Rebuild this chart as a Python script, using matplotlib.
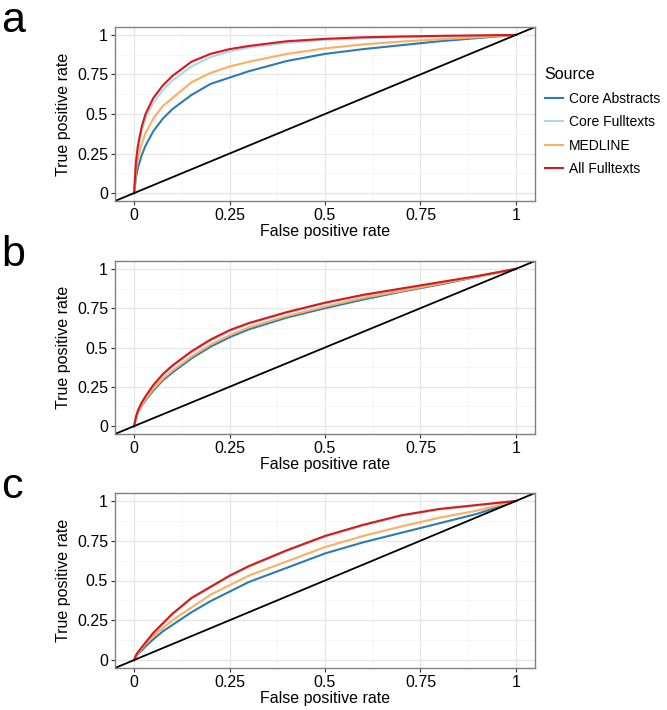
import matplotlib
matplotlib.use("Agg")
import matplotlib.pyplot as plt
import numpy as np

plt.rcParams['font.family'] = ['Liberation Sans', 'DejaVu Sans']

# ROC curves
fpr = [0, 0.005, 0.01, 0.02, 0.03, 0.05, 0.075, 0.1, 0.15, 0.2, 0.25, 0.3,
       0.4, 0.5, 0.6, 0.7, 0.8, 0.9, 1.0]

sources = ["Core Abstracts", "Core Fulltexts", "MEDLINE", "All Fulltexts"]
colors = ["#2c7bb6", "#abd9e9", "#fdae61", "#d7191c"]

# panel a
a_core_abs = [0, 0.1, 0.16, 0.24, 0.3, 0.39, 0.47, 0.53, 0.62, 0.69, 0.73, 0.77,
              0.835, 0.88, 0.91, 0.935, 0.96, 0.98, 1]
a_core_full = [0, 0.18, 0.27, 0.39, 0.47, 0.57, 0.65, 0.71, 0.8, 0.86, 0.895, 0.92,
               0.95, 0.968, 0.978, 0.985, 0.99, 0.995, 1]
a_medline = [0, 0.14, 0.22, 0.31, 0.38, 0.47, 0.55, 0.6, 0.7, 0.76, 0.8, 0.83,
             0.88, 0.915, 0.94, 0.958, 0.972, 0.985, 1]
a_all_full = [0, 0.2, 0.3, 0.42, 0.5, 0.6, 0.68, 0.74, 0.83, 0.88, 0.91, 0.93,
              0.96, 0.975, 0.985, 0.99, 0.994, 0.997, 1]

# panel b
b_core_abs = [0, 0.05, 0.085, 0.13, 0.165, 0.225, 0.29, 0.34, 0.43, 0.505, 0.565, 0.615,
              0.69, 0.75, 0.805, 0.855, 0.9, 0.95, 1]
b_core_full = [0, 0.055, 0.095, 0.145, 0.185, 0.25, 0.32, 0.375, 0.465, 0.54, 0.6, 0.648,
               0.718, 0.778, 0.828, 0.87, 0.91, 0.953, 1]
b_medline = [0, 0.052, 0.088, 0.135, 0.172, 0.235, 0.3, 0.352, 0.442, 0.518, 0.578, 0.628,
             0.7, 0.76, 0.815, 0.86, 0.905, 0.952, 1]
b_all_full = [0, 0.06, 0.1, 0.15, 0.19, 0.26, 0.33, 0.385, 0.475, 0.55, 0.61, 0.655,
              0.725, 0.785, 0.835, 0.875, 0.915, 0.955, 1]

# panel c
c_core_abs = [0, 0.02, 0.04, 0.06, 0.085, 0.13, 0.18, 0.22, 0.3, 0.37, 0.43, 0.49,
              0.58, 0.67, 0.74, 0.8, 0.86, 0.92, 1]
c_core_full = [0, 0.028, 0.047, 0.077, 0.105, 0.165, 0.225, 0.285, 0.385, 0.455, 0.525, 0.585,
               0.685, 0.775, 0.845, 0.905, 0.945, 0.972, 1]
c_medline = [0, 0.025, 0.045, 0.07, 0.1, 0.15, 0.2, 0.25, 0.33, 0.41, 0.47, 0.53,
             0.62, 0.71, 0.78, 0.84, 0.895, 0.94, 1]
c_all_full = [0, 0.03, 0.05, 0.08, 0.11, 0.17, 0.23, 0.29, 0.39, 0.46, 0.53, 0.59,
              0.69, 0.78, 0.85, 0.91, 0.95, 0.975, 1]

panels = [
    ("a", [a_core_abs, a_core_full, a_medline, a_all_full]),
    ("b", [b_core_abs, b_core_full, b_medline, b_all_full]),
    ("c", [c_core_abs, c_core_full, c_medline, c_all_full]),
]

ticks = [0, 0.25, 0.5, 0.75, 1]
ticklabels = ["0", "0.25", "0.5", "0.75", "1"]

fig = plt.figure(figsize=(6.67, 7.10), dpi=100)
W, H = 667, 710
boxes = [(27, 201), (261, 434), (493, 668)]
left, right = 115, 535

for (label, series), (top, bottom) in zip(panels, boxes):
    ax = fig.add_axes([left / W, 1 - bottom / H, (right - left) / W, (bottom - top) / H])
    for ys, name, col in zip(series, sources, colors):
        ax.plot(fpr, ys, color=col, lw=1.5, label=name)
    ax.plot([-0.1, 1.1], [-0.1, 1.1], color="black", lw=1.3)
    ax.set_xlim(-0.05, 1.05)
    ax.set_ylim(-0.05, 1.05)
    ax.set_xticks(ticks)
    ax.set_xticklabels(ticklabels)
    ax.set_yticks(ticks)
    ax.set_yticklabels(ticklabels)
    ax.set_xticks([0.125, 0.375, 0.625, 0.875], minor=True)
    ax.set_yticks([0.125, 0.375, 0.625, 0.875], minor=True)
    ax.grid(which="major", color="#e6e6e6", lw=0.9)
    ax.grid(which="minor", color="#f3f3f3", lw=0.5)
    ax.set_axisbelow(True)
    ax.tick_params(which="major", length=3, width=0.8, color="#333333",
                   labelsize=11.5, labelcolor="black", pad=2)
    ax.tick_params(which="minor", length=0)
    for s in ax.spines.values():
        s.set_color("#808080")
        s.set_linewidth(1.0)
    ax.set_xlabel("False positive rate", fontsize=11.5, labelpad=1)
    ax.set_ylabel("True positive rate", fontsize=11.5, labelpad=4)
    fig.text(1 / W, 1 - (top + 5) / H, label, fontsize=31, va="baseline", ha="left")
    if label == "a":
        leg = ax.legend(title="Source", loc="upper left", bbox_to_anchor=(1.01, 0.8),
                        frameon=False, fontsize=10, title_fontsize=11.5,
                        handlelength=1.3, handletextpad=0.45, labelspacing=0.68,
                        borderaxespad=0)
        leg._legend_box.align = "left"

fig.savefig("out.png", dpi=100)
